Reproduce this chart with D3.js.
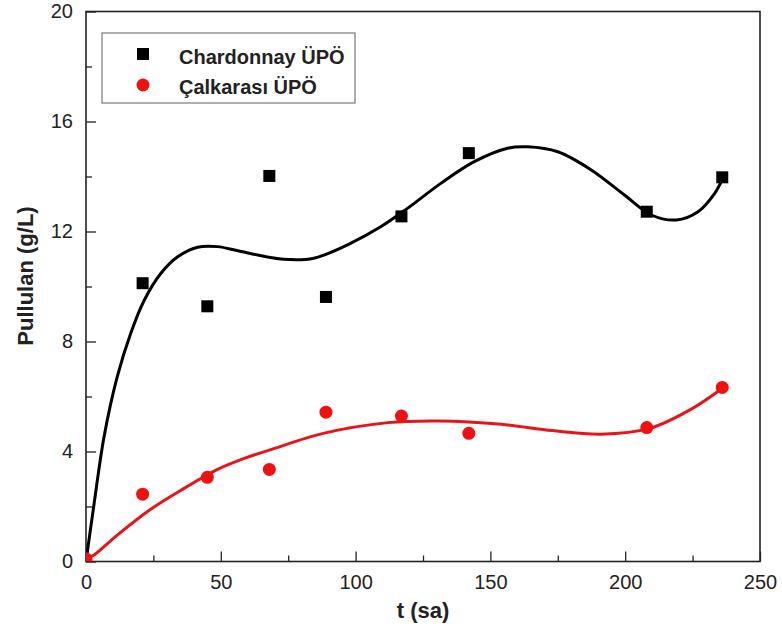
<!DOCTYPE html>
<html>
<head>
<meta charset="utf-8">
<script src="https://cdn.jsdelivr.net/npm/d3@7"></script>
<style>
    body { margin: 0; background: #fff; }
    text { font-family: "Liberation Sans", Arial, sans-serif; }
</style>
</head>
<body>
<svg id="chart" width="782" height="643"></svg>
<script>
// measured points
var times = [21, 45, 68, 89, 117, 142, 208, 236];
var chardonnay = [10.12, 9.28, 14.02, 9.62, 12.55, 14.85, 12.72, 13.97];
var calkarasi = [2.45, 3.06, 3.35, 5.43, 5.29, 4.66, 4.87, 6.33];
var calkarasiStart = [{ t: 0, v: 0.1 }];

// fitted curves
var fitBlackT = [0, 3, 6.7, 11.6, 16.6, 21.6, 27.8, 34, 41.4, 48.8, 57.5, 73.3, 84.5, 98.1, 109.3, 119.2, 131.6, 144, 156.4, 163.8, 175, 187.4, 199.7, 209.7, 219, 227, 233.2, 235.8];
var fitBlackV = [0, 2.1, 4.54, 6.72, 8.3, 9.5, 10.48, 11.08, 11.43, 11.45, 11.27, 10.99, 11.03, 11.57, 12.17, 12.84, 13.75, 14.54, 15.03, 15.08, 14.9, 14.24, 13.33, 12.6, 12.42, 12.72, 13.39, 13.85];
var fitRedT = [0, 3, 11.6, 24, 36.4, 48.8, 58.7, 68, 88, 112, 131, 154, 173, 191, 209, 225, 236];
var fitRedV = [0.1, 0.24, 0.96, 1.9, 2.66, 3.35, 3.75, 4.05, 4.66, 5.05, 5.11, 4.99, 4.76, 4.63, 4.84, 5.57, 6.3];

var xTicks = [0, 50, 100, 150, 200, 250];
var yTicks = [0, 4, 8, 12, 16, 20];

var svg = d3.select("#chart");
var plotLeft = 86, plotRight = 760, plotTop = 11.5, plotBottom = 561.5;

var x = d3.scaleLinear().domain([0, 250]).range([plotLeft, plotRight]);
var y = d3.scaleLinear().domain([0, 20]).range([plotBottom, plotTop]);

svg.append("clipPath")
    .attr("id", "plot-clip")
    .append("rect")
    .attr("x", plotLeft)
    .attr("y", plotTop)
    .attr("width", plotRight - plotLeft)
    .attr("height", plotBottom - plotTop);

// minor ticks first, then major with labels
svg.append("g")
    .attr("transform", "translate(0," + plotBottom + ")")
    .call(d3.axisBottom(x).tickValues(d3.range(25, 250, 50)).tickSize(-6).tickFormat(""))
    .call(g => g.select(".domain").remove());
svg.append("g")
    .attr("transform", "translate(" + plotLeft + ",0)")
    .call(d3.axisLeft(y).tickValues(d3.range(2, 20, 4)).tickSize(-6).tickFormat(""))
    .call(g => g.select(".domain").remove());

var xAxis = svg.append("g")
    .attr("transform", "translate(0," + plotBottom + ")")
    .call(d3.axisBottom(x).tickValues(xTicks).tickSize(-10).tickPadding(13));
xAxis.select(".domain").remove();
xAxis.selectAll("text").attr("font-size", 20).attr("fill", "#222");

var yAxis = svg.append("g")
    .attr("transform", "translate(" + plotLeft + ",0)")
    .call(d3.axisLeft(y).tickValues(yTicks).tickSize(-10).tickPadding(13));
yAxis.select(".domain").remove();
yAxis.selectAll("text").attr("font-size", 20).attr("fill", "#222");

svg.selectAll(".tick line").attr("stroke", "#222").attr("stroke-width", 1.3);

svg.append("rect")
    .attr("x", plotLeft)
    .attr("y", plotTop)
    .attr("width", plotRight - plotLeft)
    .attr("height", plotBottom - plotTop)
    .attr("fill", "none")
    .attr("stroke", "#222")
    .attr("stroke-width", 1.6);

var plot = svg.append("g").attr("clip-path", "url(#plot-clip)");

var line = d3.line()
    .x(d => x(d[0]))
    .y(d => y(d[1]))
    .curve(d3.curveCatmullRom.alpha(0.5));

plot.append("path")
    .datum(d3.zip(fitBlackT, fitBlackV))
    .attr("d", line)
    .attr("fill", "none")
    .attr("stroke", "#000")
    .attr("stroke-width", 3);

plot.append("path")
    .datum(d3.zip(fitRedT, fitRedV))
    .attr("d", line)
    .attr("fill", "none")
    .attr("stroke", "#e8141b")
    .attr("stroke-width", 3);

var sq = 12;
plot.selectAll(".black-pt")
    .data(d3.zip(times, chardonnay))
    .join("rect")
    .attr("class", "black-pt")
    .attr("x", d => x(d[0]) - sq / 2)
    .attr("y", d => y(d[1]) - sq / 2)
    .attr("width", sq)
    .attr("height", sq)
    .attr("fill", "#000");

plot.selectAll(".red-pt")
    .data(d3.zip(times, calkarasi).concat(calkarasiStart.map(d => [d.t, d.v])))
    .join("circle")
    .attr("class", "red-pt")
    .attr("cx", d => x(d[0]))
    .attr("cy", d => y(d[1]))
    .attr("r", 6.5)
    .attr("fill", "#ee1111");

// legend
var legend = svg.append("g");
legend.append("rect")
    .attr("x", 102)
    .attr("y", 33)
    .attr("width", 253)
    .attr("height", 70)
    .attr("fill", "#fff")
    .attr("stroke", "#777")
    .attr("stroke-width", 1.2);
legend.append("rect")
    .attr("x", 143 - sq / 2)
    .attr("y", 54 - sq / 2)
    .attr("width", sq)
    .attr("height", sq)
    .attr("fill", "#000");
legend.append("circle")
    .attr("cx", 143)
    .attr("cy", 85)
    .attr("r", 6.5)
    .attr("fill", "#ee1111");
legend.append("text")
    .attr("x", 179)
    .attr("y", 64)
    .attr("font-size", 20)
    .attr("font-weight", "bold")
    .attr("fill", "#222")
    .text("Chardonnay ÜPÖ");
legend.append("text")
    .attr("x", 179)
    .attr("y", 94)
    .attr("font-size", 20)
    .attr("font-weight", "bold")
    .attr("fill", "#222")
    .text("Çalkarası ÜPÖ");

// axis titles
svg.append("text")
    .attr("x", (plotLeft + plotRight) / 2)
    .attr("y", 618)
    .attr("text-anchor", "middle")
    .attr("font-size", 22)
    .attr("font-weight", "bold")
    .attr("fill", "#222")
    .text("t (sa)");

svg.append("text")
    .attr("transform", "translate(33,276) rotate(-90)")
    .attr("text-anchor", "middle")
    .attr("font-size", 22)
    .attr("font-weight", "bold")
    .attr("fill", "#222")
    .text("Pullulan (g/L)");
</script>
</body>
</html>
